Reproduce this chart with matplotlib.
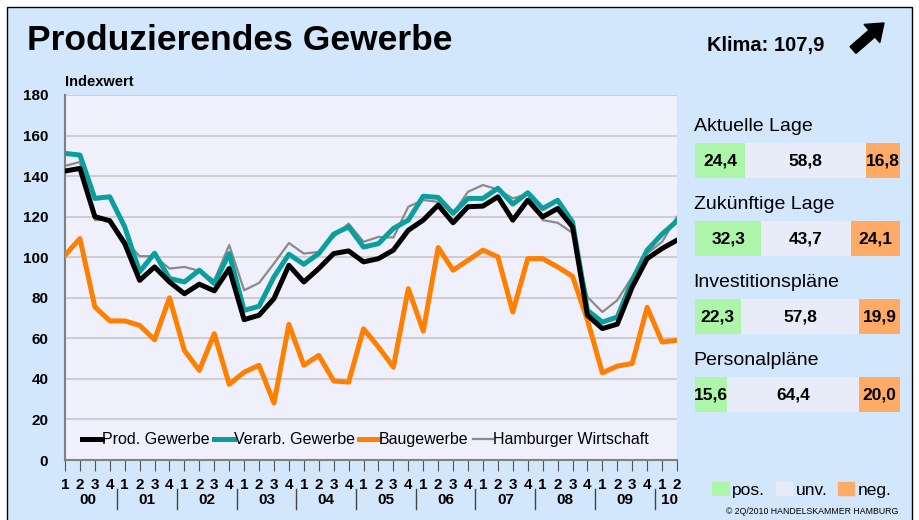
import numpy as np
import matplotlib
matplotlib.use("Agg")
import matplotlib.pyplot as plt
from matplotlib.patches import Rectangle, FancyArrow, Patch
from matplotlib.transforms import IdentityTransform, blended_transform_factory

plt.rcParams['font.family'] = ['Liberation Sans', 'DejaVu Sans']

# --- data -------------------------------------------------------------
quarters = ["1", "2", "3", "4"] * 10 + ["1", "2"]
years = ["00", "01", "02", "03", "04", "05", "06", "07", "08", "09", "10"]

prod = [142.5, 143.8, 120, 118, 106.7, 88.6, 95.2, 87.8, 82, 86.7, 83.4,
        94.4, 69.2, 71.4, 79.6, 96, 87.8, 94.4, 101.8, 103.1, 97.7,
        99.3, 103.5, 113.3, 118.3, 125.7, 117, 124.9, 125.2, 129.8, 118.3,
        128.1, 119.9, 124, 115, 71.4, 64.8, 67, 85.3, 99.3, 104.3, 108.4]
verarb = [151.2, 150.4, 129, 129.8, 115, 92.8, 102, 89.5, 87.8, 93.6, 87,
          101.8, 73.8, 75.8, 90.3, 101.5, 96.5, 101.8, 111.4, 115, 105,
          106.7, 114.2, 118.3, 130.1, 129.5, 121.6, 129, 129, 134, 126.2,
          131.8, 124, 128.1, 117.4, 73.8, 68, 70.5, 88.6, 103.5, 111.4, 117.9]
bau = [101, 109.2, 75.5, 68.6, 68.6, 66.4, 59.3, 80, 54, 44.2, 62.3,
       37.3, 43.3, 46.7, 28.1, 66.9, 46.7, 51.6, 39, 38.4, 64.7,
       55.7, 45.8, 84.5, 63.6, 104.8, 93.6, 98.5, 103.5, 100.2, 73,
       99.3, 99.3, 95.2, 90.6, 69, 43, 46.3, 47.6, 75.3, 58.2, 59]
hamburg = [145, 147, 118.3, 118.6, 108.4, 100.5, 100.5, 94.4, 95.2, 93.3, 88.6,
           106, 83.7, 87.3, 96.9, 107, 101.8, 102.6, 110, 116.6, 107.6,
           110, 109.7, 124.9, 128.2, 127.3, 121.6, 132.3, 135.6, 133.4, 129,
           131.2, 118.3, 117, 112, 80.4, 73, 78.8, 90.3, 101.8, 107.6, 119.9]

panel_labels = ["Aktuelle Lage", "Zukünftige Lage", "Investitionspläne", "Personalpläne"]
pos = np.array([24.4, 32.3, 22.3, 15.6])
unv = np.array([58.8, 43.7, 57.8, 64.4])
neg = np.array([16.8, 24.1, 19.9, 20.0])

klima = "107,9"

# --- colours ----------------------------------------------------------
bg = "#d2e7fc"
c_pos, c_unv, c_neg = "#adf5a8", "#e8ecf8", "#ffab66"


def de(v):
    return f"{v:.1f}".replace(".", ",")


fig = plt.figure(figsize=(9.2, 5.2), dpi=100)
fig.patch.set_facecolor("white")
fig.add_artist(Rectangle((7/920, -0.02), 905/920, 513/520 + 0.02, transform=fig.transFigure,
                         facecolor=bg, edgecolor="black", lw=1, zorder=0))

fig.text(27/920, 1 - 40/520, "Produzierendes Gewerbe", fontsize=25.5, fontweight="bold", va="center")
fig.text(707/920, 1 - 45/520, "Klima: " + klima, fontsize=14.5, fontweight="bold", va="center")
fig.add_artist(FancyArrow(853, 520 - 50, 31, 27, width=9, head_width=24, head_length=16,
                          length_includes_head=True, color="black", transform=IdentityTransform()))
fig.text(65/920, 1 - 82/520, "Indexwert", fontsize=10.5, fontweight="bold", va="center")

# --- main chart -------------------------------------------------------
ax = fig.add_axes([65/920, 60/520, 612/920, 365/520])
ax.set_facecolor("#f0f0fc")
x = np.arange(len(prod))
l4, = ax.plot(x, hamburg, color="#8a8a8a", lw=1.6, zorder=2)
l3, = ax.plot(x, bau, color="#ff8000", lw=3.6, zorder=3)
l2, = ax.plot(x, verarb, color="#0a9f9d", lw=3.6, zorder=4)
l1, = ax.plot(x, prod, color="black", lw=3.6, zorder=5)

ax.set_xlim(0, len(prod) - 1)
ax.set_ylim(0, 180)
ax.set_yticks(range(0, 181, 20))
ax.grid(axis="y", color="#c8c8c8", lw=1.2)
ax.set_axisbelow(True)
for s in ["top", "right"]:
    ax.spines[s].set_visible(False)
for s in ["left", "bottom"]:
    ax.spines[s].set_color("#808080")
    ax.spines[s].set_linewidth(1.5)
ax.tick_params(axis="y", length=0, pad=12, labelsize=11)
ax.set_xticks(x, quarters)
ax.tick_params(axis="x", length=8, color="#555555", pad=5, labelsize=11)
for lbl in ax.get_xticklabels() + ax.get_yticklabels():
    lbl.set_fontweight("bold")

trans = blended_transform_factory(ax.transData, ax.transAxes)
for k, yr in enumerate(years):
    idx = [i for i in x if i // 4 == k]
    ax.text(np.mean(idx), -0.11, yr, transform=trans, ha="center", va="center",
            fontsize=11, fontweight="bold")
    if k > 0:
        ax.plot([4*k - 0.5] * 2, [-0.08, -0.135], transform=trans, clip_on=False,
                color="#444444", lw=1)

leg = ax.legend([l1, l2, l3, l4], ["Prod. Gewerbe", "Verarb. Gewerbe", "Baugewerbe", "Hamburger Wirtschaft"],
                loc="lower left", bbox_to_anchor=(0.005, -0.005), ncol=4, frameon=False, fontsize=11.5,
                handlelength=1.25, handletextpad=0.0, columnspacing=0.25)
leg.set_zorder(10)

# --- right panel ------------------------------------------------------
pax = fig.add_axes([695/920, 102/520, 205/920, 312/520])
rows = np.arange(len(panel_labels))
pax.barh(rows, pos, height=0.45, color=c_pos)
pax.barh(rows, unv, left=pos, height=0.45, color=c_unv)
pax.barh(rows, neg, left=pos + unv, height=0.45, color=c_neg)
pax.set_xlim(0, 100)
pax.set_ylim(3.3, -0.7)
pax.axis("off")
for i, lab in enumerate(panel_labels):
    pax.text(-0.7, i - 0.44, lab, fontsize=14, va="center", ha="left", clip_on=False)
    pax.text(pos[i] / 2, i, de(pos[i]), ha="center", va="center", fontsize=12.5, fontweight="bold")
    pax.text(pos[i] + unv[i] / 2, i, de(unv[i]), ha="center", va="center", fontsize=12.5, fontweight="bold")
    pax.text(pos[i] + unv[i] + neg[i] / 2, i, de(neg[i]), ha="center", va="center", fontsize=12.5, fontweight="bold")

fig.legend([Patch(color=c_pos), Patch(color=c_unv), Patch(color=c_neg)], ["pos.", "unv.", "neg."],
           loc="center", bbox_to_anchor=(802/920, 1 - 490/520), ncol=3, frameon=False, fontsize=12.5,
           handlelength=0.95, handleheight=0.7, handletextpad=0.2, columnspacing=0.6)
fig.text(812/920, 1 - 511/520, "© 2Q/2010 HANDELSKAMMER HAMBURG", fontsize=6.3, ha="center", va="center")

fig.savefig("out.png", dpi=100, facecolor=fig.get_facecolor())
